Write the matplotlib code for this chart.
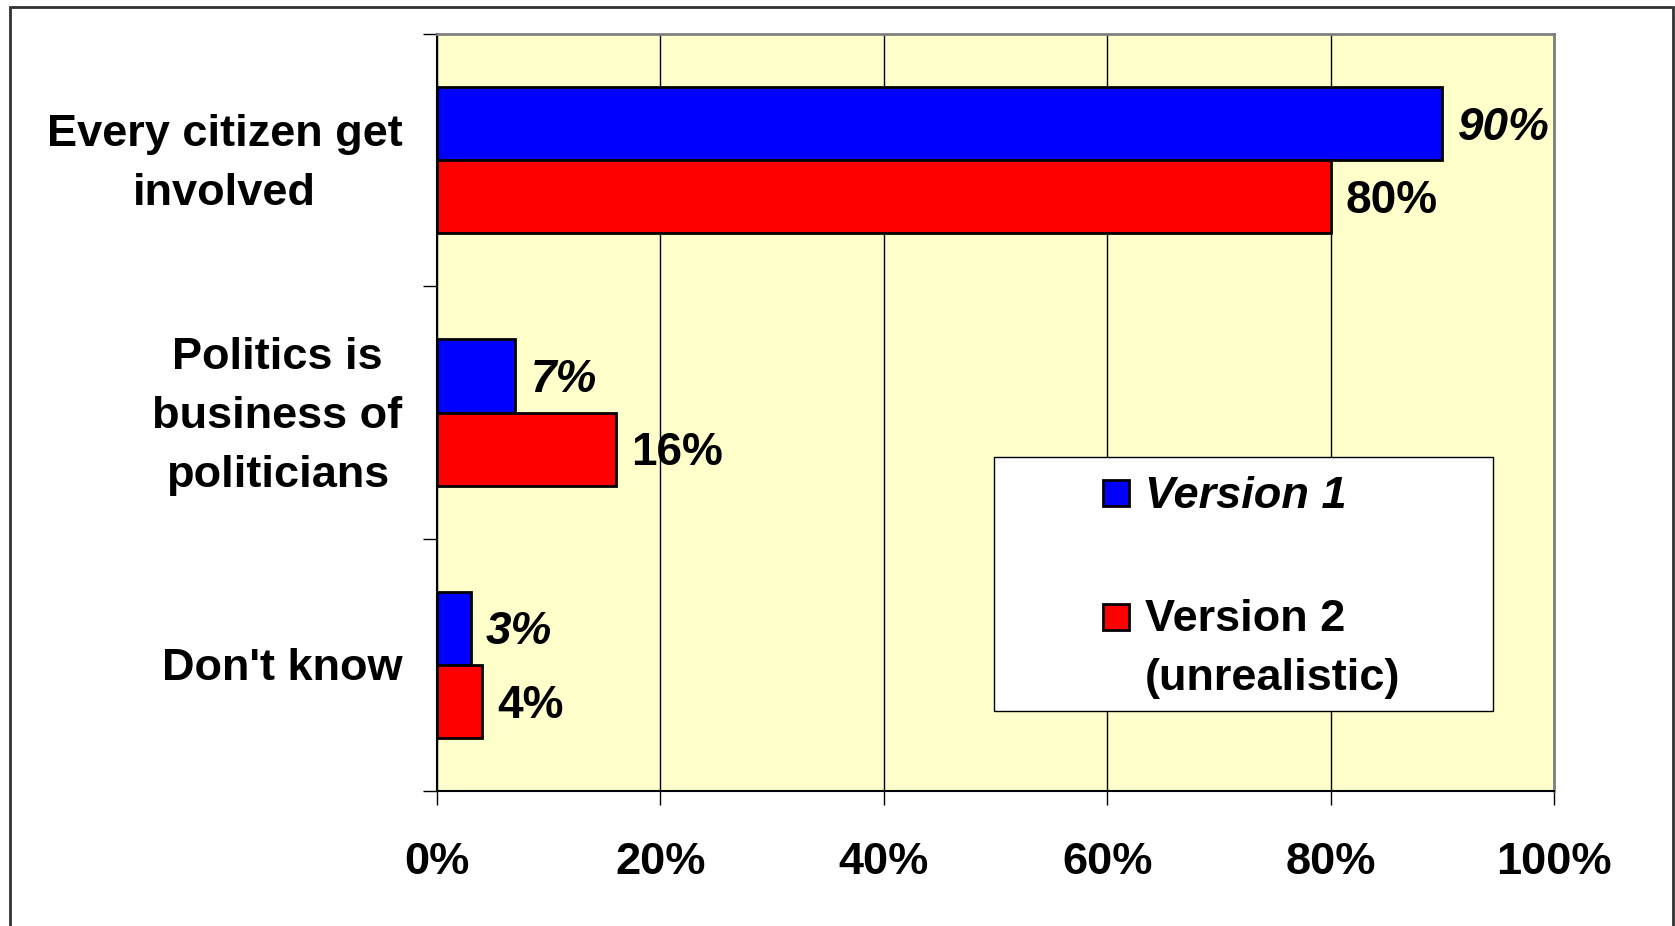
import numpy as np
import matplotlib.pyplot as plt
from matplotlib.patches import Rectangle
from matplotlib.transforms import ScaledTranslation

# データ
categories = ["Every citizen get\ninvolved", "Politics is\nbusiness of\npoliticians", "Don't know"]
version1 = [90, 7, 3]
version2 = [80, 16, 4]
series_names = ["Version 1", "Version 2\n(unrealistic)"]
series_colors = ['#0000FF', '#FF0000']
xticks = [0, 20, 40, 60, 80, 100]

plt.rcParams['font.family'] = ['Liberation Sans', 'DejaVu Sans']

fig = plt.figure(figsize=(16.75, 9.26), dpi=100)
ax = fig.add_axes([437 / 1675, 1 - 791 / 926, (1554 - 437) / 1675, (791 - 34) / 926])
ax.set_facecolor('#FFFFCC')

# 外枠
fig.patches.append(Rectangle((10 / 1675, -0.05), (1673 - 10) / 1675, 1 - 7 / 926 + 0.05,
                             transform=fig.transFigure, fill=False, edgecolor='#333333', lw=2))

y = np.arange(len(categories))
h = 0.29
ax.barh(y - h / 2, version1, height=h, color=series_colors[0], edgecolor='black', lw=2, zorder=3)
ax.barh(y + h / 2, version2, height=h, color=series_colors[1], edgecolor='black', lw=2, zorder=3)

# 値ラベル
for yy, v in zip(y, version1):
    ax.annotate(f"{v}%", (v, yy - h / 2), xytext=(11, -3), textcoords='offset points',
                va='center', ha='left', fontsize=33, fontweight='bold', style='italic')
for yy, v in zip(y, version2):
    ax.annotate(f"{v}%", (v, yy + h / 2), xytext=(11, -3), textcoords='offset points',
                va='center', ha='left', fontsize=33, fontweight='bold')

ax.set_xlim(0, 100)
ax.set_ylim(2.5, -0.5)
ax.set_xticks(xticks)
ax.set_xticklabels([f"{t}%" for t in xticks], fontsize=32.5, fontweight='bold')
ax.tick_params(axis='x', length=10, width=1, direction='out', pad=27)
ax.grid(axis='x', color='black', lw=1, zorder=1)

ax.set_yticks(y)
ax.set_yticklabels(categories, fontsize=32.5, fontweight='bold', multialignment='center',
                   linespacing=1.56, va='center')
ax.tick_params(axis='y', which='major', length=0, pad=25)
ax.set_yticks([-0.5, 0.5, 1.5, 2.5], minor=True)
ax.tick_params(axis='y', which='minor', length=10, width=1, direction='out')
# ラベルを少し下へ
shift = ScaledTranslation(0, -0.04, fig.dpi_scale_trans)
for lbl in ax.get_yticklabels():
    lbl.set_transform(lbl.get_transform() + shift)

for s in ['left', 'bottom']:
    ax.spines[s].set_color('black')
    ax.spines[s].set_linewidth(1.5)
for s in ['top', 'right']:
    ax.spines[s].set_color('#808080')
    ax.spines[s].set_linewidth(2)

# 凡例（手作り）
ax.add_patch(Rectangle((0.4987, 0.1057), 0.4463, 0.3353, transform=ax.transAxes,
                       facecolor='white', edgecolor='black', lw=1, zorder=5))
marker_y = [0.394, 0.230]
text_top = [0.416, 0.253]
for name, col, my, ty in zip(series_names, series_colors, marker_y, text_top):
    ax.add_patch(Rectangle((0.596, my - 0.0172), 0.0233, 0.0343, transform=ax.transAxes,
                           facecolor=col, edgecolor='black', lw=2, zorder=6))
    ax.text(0.634, ty, name, transform=ax.transAxes, va='top', ha='left', fontsize=32.5,
            fontweight='bold', style='italic' if name == series_names[0] else 'normal',
            linespacing=1.56, zorder=6)

fig.savefig('out.png', dpi=100)
